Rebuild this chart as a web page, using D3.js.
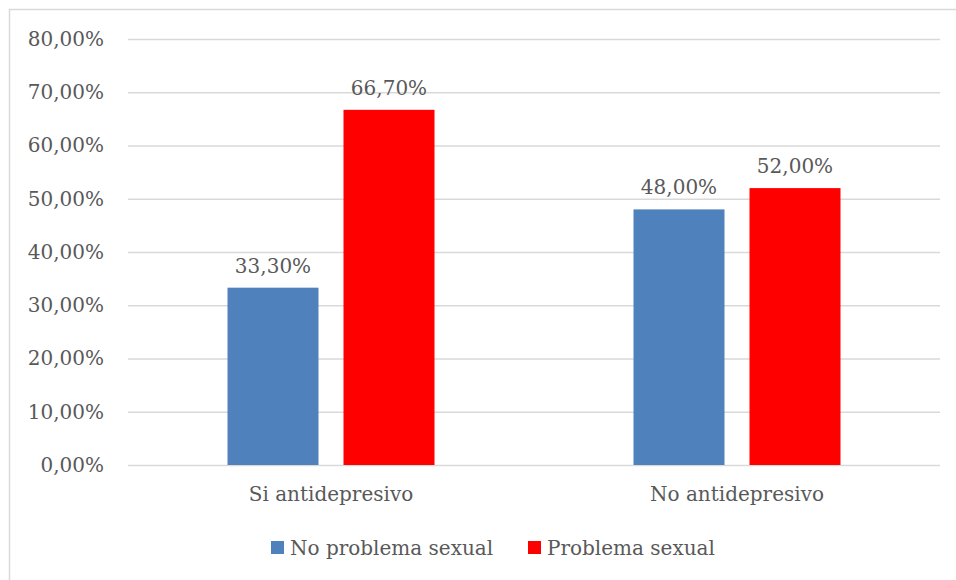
<!DOCTYPE html>
<html>
<head>
<meta charset="utf-8">
<script src="https://cdn.jsdelivr.net/npm/d3@7"></script>
<style>
  body { margin: 0; background: #fff; }
  text { font-family: "DejaVu Serif", serif; fill: #595959; }
</style>
</head>
<body>
<div id="chart"></div>
<script>
// data
var categories = ["Si antidepresivo", "No antidepresivo"];
var seriesNames = ["No problema sexual", "Problema sexual"];
var noProblema = [33.3, 48.0];
var problema = [66.7, 52.0];
var yTicks = [0, 10, 20, 30, 40, 50, 60, 70, 80];
var colors = ["#4f81bd", "#ff0000"];

var W = 956, H = 580;
var margin = { top: 39, right: 16, bottom: 115, left: 128 },
    width = W - margin.left - margin.right,
    height = H - margin.top - margin.bottom;

var svg = d3.select("#chart").append("svg")
    .attr("width", W)
    .attr("height", H);

// outer chart border (runs off the right and bottom edges)
svg.append("rect")
    .attr("x", 9.5).attr("y", 9.5)
    .attr("width", 1000).attr("height", 1000)
    .attr("fill", "none")
    .attr("stroke", "#d9d9d9")
    .attr("stroke-width", 1.5);

var g = svg.append("g")
    .attr("transform", "translate(" + margin.left + "," + margin.top + ")");

var x = d3.scaleBand()
    .domain(categories)
    .range([0, width]);

// pair of bars: 91px each with a 25px gap
var x1 = d3.scaleBand()
    .domain(seriesNames)
    .range([0, 207])
    .paddingInner(25 / 116);

var y = d3.scaleLinear()
    .domain([0, 80])
    .range([height, 0]);

var fmt = function (v) { return v.toFixed(2).replace(".", ",") + "%"; };

// gridlines + y labels
var yAxis = d3.axisLeft(y)
    .tickValues(yTicks)
    .tickSize(-width)
    .tickPadding(24)
    .tickFormat(fmt);

var ya = g.append("g").call(yAxis);
ya.select(".domain").remove();
ya.selectAll("line").attr("stroke", "#d9d9d9").attr("stroke-width", 1.3);
ya.selectAll("text")
    .style("font-size", "20px")
    .attr("fill", "#595959");

// x labels
var xAxis = d3.axisBottom(x).tickSize(0).tickPadding(22);
var xa = g.append("g")
    .attr("transform", "translate(0," + height + ")")
    .call(xAxis);
xa.select(".domain").remove();
xa.selectAll("text").style("font-size", "20px").attr("fill", "#595959");

var series = [noProblema, problema];
var groups = g.selectAll(".grp")
    .data(categories)
    .enter().append("g")
    .attr("class", "grp")
    .attr("transform", function (d) {
        return "translate(" + (x(d) + x.bandwidth() / 2 - 103.5) + ",0)";
    });

groups.each(function (cat, ci) {
    var gg = d3.select(this);
    seriesNames.forEach(function (s, si) {
        var v = series[si][ci];
        gg.append("rect")
            .attr("x", x1(s))
            .attr("width", x1.bandwidth())
            .attr("y", y(v))
            .attr("height", height - y(v))
            .attr("fill", colors[si]);
        gg.append("text")
            .attr("x", x1(s) + x1.bandwidth() / 2)
            .attr("y", y(v) - 15)
            .attr("text-anchor", "middle")
            .style("font-size", "20px")
            .text(fmt(v));
    });
});

// legend
var legendX = [271, 528];
var legend = svg.selectAll(".leg")
    .data(seriesNames)
    .enter().append("g")
    .attr("class", "leg")
    .attr("transform", function (d, i) { return "translate(" + legendX[i] + ",541)"; });
legend.append("rect")
    .attr("width", 13).attr("height", 13)
    .attr("fill", function (d, i) { return colors[i]; });
legend.append("text")
    .attr("x", 19).attr("y", 14)
    .style("font-size", "20px")
    .text(function (d) { return d; });
</script>
</body>
</html>
